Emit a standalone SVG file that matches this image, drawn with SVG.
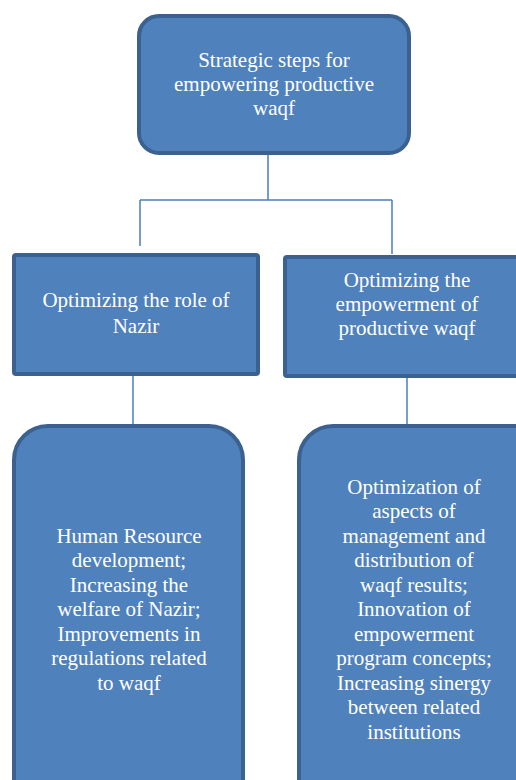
<svg xmlns="http://www.w3.org/2000/svg" width="516" height="780" viewBox="0 0 516 780">
<style>
.box{fill:#4f81bd;stroke:#3b6190;stroke-width:4}
.lbl{font-family:"Liberation Serif","Times New Roman",serif;font-size:21px;fill:#ffffff;text-anchor:middle}
.con{fill:none;stroke:#4a7ebb;stroke-width:1.5}
</style>
<rect width="516" height="780" fill="#ffffff"/>
<g id="connectors">
<path class="con" d="M268,155 V200 M140,200 H392 M140,200 V246 M392,200 V254"/>
<path class="con" d="M133,376 V424"/>
<path class="con" d="M407,378 V424"/>
</g>
<g id="root">
<rect class="box" x="139" y="16" width="270" height="137" rx="20"/>
<text class="lbl"><tspan x="274" y="67">Strategic steps for</tspan><tspan x="274" y="91">empowering productive</tspan><tspan x="274" y="115">waqf</tspan></text>
</g>
<g id="nazir">
<rect class="box" x="14" y="255" width="244" height="119" rx="2"/>
<text class="lbl"><tspan x="136" y="307">Optimizing the role of</tspan><tspan x="136" y="333">Nazir</tspan></text>
</g>
<g id="empowerment">
<rect class="box" x="285" y="257" width="240" height="119" rx="2"/>
<text class="lbl"><tspan x="407" y="287">Optimizing the</tspan><tspan x="407" y="311">empowerment of</tspan><tspan x="407" y="335">productive waqf</tspan></text>
</g>
<g id="nazir-detail">
<path class="box" d="M14,790 V460 A34,34 0 0 1 48,426 H209 A34,34 0 0 1 243,460 V790 Z"/>
<text class="lbl"><tspan x="129" y="543">Human Resource</tspan><tspan x="129" y="567">development;</tspan><tspan x="129" y="592">Increasing the</tspan><tspan x="129" y="616">welfare of Nazir;</tspan><tspan x="129" y="641">Improvements in</tspan><tspan x="129" y="665">regulations related</tspan><tspan x="129" y="690">to waqf</tspan></text>
</g>
<g id="empowerment-detail">
<path class="box" d="M299,790 V460 A34,34 0 0 1 333,426 H540 V790 Z"/>
<text class="lbl"><tspan x="414" y="494">Optimization of</tspan><tspan x="414" y="518">aspects of</tspan><tspan x="414" y="543">management and</tspan><tspan x="414" y="567">distribution of</tspan><tspan x="414" y="592">waqf results;</tspan><tspan x="414" y="616">Innovation of</tspan><tspan x="414" y="641">empowerment</tspan><tspan x="414" y="665">program concepts;</tspan><tspan x="414" y="690">Increasing sinergy</tspan><tspan x="414" y="714">between related</tspan><tspan x="414" y="739">institutions</tspan></text>
</g>
</svg>
